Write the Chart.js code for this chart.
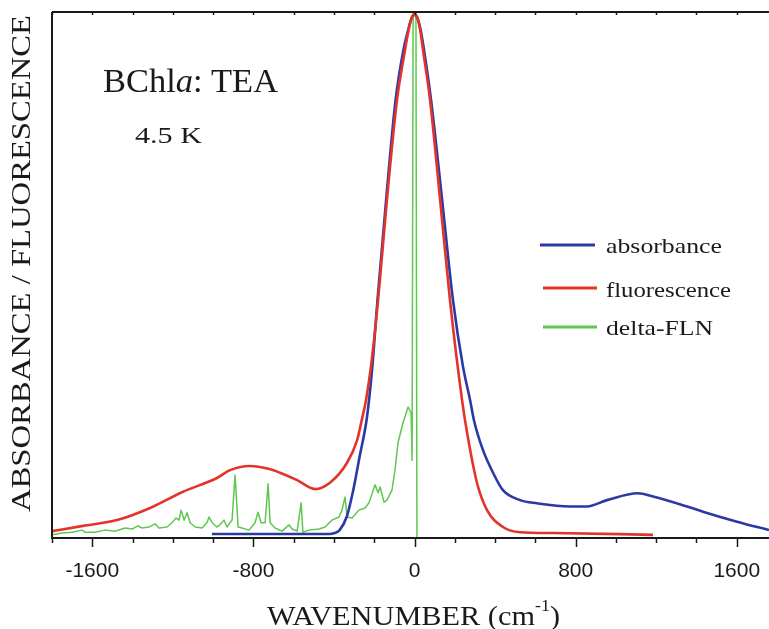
<!DOCTYPE html>
<html>
<head>
<meta charset="utf-8">
<script src="https://cdn.jsdelivr.net/npm/chart.js@4.4.0/dist/chart.umd.min.js"></script>
<style>
    body { margin: 0; background: #fff; }
</style>
</head>
<body>
<canvas id="spectra" width="769" height="629"></canvas>
<script>
// wavenumber (cm-1) / relative intensity
const absX = [-1006, -700, -421, -397, -372, -337, -307, -273, -236, -211, -184, -141, -94, -55, -32, -15, 0, 15, 30, 47, 82, 137, 191, 241, 276, 295, 340, 390, 439, 524, 608, 772, 857, 956, 1109, 1184, 1353, 1432, 1601, 1760];
const absY = [0.0076, 0.0076, 0.0076, 0.0095, 0.015, 0.040, 0.086, 0.154, 0.230, 0.319, 0.452, 0.643, 0.833, 0.928, 0.965, 0.988, 0.995, 0.988, 0.966, 0.928, 0.833, 0.643, 0.452, 0.325, 0.262, 0.224, 0.167, 0.124, 0.091, 0.072, 0.066, 0.060, 0.060, 0.072, 0.085, 0.079, 0.060, 0.050, 0.031, 0.015];

const fluX = [-1800, -1646, -1477, -1313, -1149, -981, -916, -817, -720, -668, -583, -494, -420, -335, -285, -261, -241, -216, -181, -137, -87, -47, -30, -15, 0, 15, 28, 42, 77, 127, 176, 236, 261, 310, 360, 439, 524, 688, 1184];
const fluY = [0.013, 0.023, 0.034, 0.057, 0.088, 0.114, 0.129, 0.137, 0.131, 0.124, 0.110, 0.093, 0.105, 0.143, 0.186, 0.226, 0.262, 0.327, 0.452, 0.643, 0.833, 0.928, 0.965, 0.988, 0.995, 0.988, 0.966, 0.928, 0.833, 0.643, 0.452, 0.262, 0.200, 0.105, 0.053, 0.021, 0.011, 0.0095, 0.006];

const flnX = [-1800, -1750, -1700, -1651, -1636, -1586, -1537, -1487, -1437, -1403, -1373, -1353, -1318, -1288, -1269, -1229, -1204, -1184, -1169, -1159, -1144, -1129, -1114, -1089, -1055, -1030, -1020, -1005, -981, -966, -946, -931, -916, -906, -891, -876, -857, -822, -792, -777, -762, -742, -727, -717, -693, -658, -623, -608, -583, -563, -554, -524, -474, -444, -410, -375, -360, -345, -335, -310, -276, -246, -226, -196, -181, -171, -151, -137, -112, -97, -82, -57, -32, -17, -12, -7, 7, 12, 390];
const flnY = [0.006, 0.0095, 0.011, 0.015, 0.011, 0.011, 0.015, 0.013, 0.019, 0.017, 0.023, 0.019, 0.021, 0.027, 0.019, 0.021, 0.029, 0.038, 0.034, 0.053, 0.034, 0.048, 0.029, 0.021, 0.019, 0.030, 0.040, 0.029, 0.021, 0.025, 0.034, 0.021, 0.029, 0.034, 0.120, 0.021, 0.019, 0.015, 0.029, 0.049, 0.029, 0.029, 0.103, 0.029, 0.019, 0.013, 0.025, 0.017, 0.013, 0.067, 0.011, 0.015, 0.017, 0.021, 0.034, 0.040, 0.053, 0.078, 0.040, 0.038, 0.053, 0.057, 0.067, 0.101, 0.086, 0.097, 0.068, 0.072, 0.091, 0.129, 0.181, 0.219, 0.249, 0.238, 0.148, 1.0, 1.0, 0, 0];

const xLabelled = [-1600, -800, 0, 800, 1600];
const seriesNames = ['absorbance', 'fluorescence', 'delta-FLN'];
const seriesColors = ['#2a3aa2', '#e3342b', '#5ec84e'];

const serif = '"Liberation Serif", "DejaVu Serif", serif';
const ink = '#1a1a1a';

function toPoints(xs, ys) {
    return xs.map((x, i) => ({ x: x, y: ys[i] }));
}

// draws a list of text runs, squeezed/stretched to a given width
function drawRuns(ctx, runs, x, y, width) {
    ctx.save();
    let total = 0;
    runs.forEach(r => { ctx.font = r.font; r.w = ctx.measureText(r.text).width; total += r.w; });
    ctx.translate(x, y);
    ctx.scale(width / total, 1);
    ctx.fillStyle = ink;
    ctx.textBaseline = 'alphabetic';
    ctx.textAlign = 'left';
    let cx = 0;
    runs.forEach(r => {
        ctx.font = r.font;
        ctx.fillText(r.text, cx, r.dy || 0);
        cx += r.w;
    });
    ctx.restore();
}

const framePlugin = {
    id: 'frame',
    afterDatasetsDraw(chart) {
        const ctx = chart.ctx;
        const a = chart.chartArea;
        const xs = chart.scales.x;
        ctx.save();
        ctx.strokeStyle = ink;
        ctx.lineWidth = 2;
        ctx.beginPath();
        ctx.moveTo(a.left, a.top);
        ctx.lineTo(a.left, a.bottom);
        ctx.lineTo(a.right, a.bottom);
        ctx.moveTo(a.left, a.top);
        ctx.lineTo(a.right, a.top);
        ctx.stroke();
        ctx.lineWidth = 1.5;
        ctx.beginPath();
        for (let v = -1800; v <= 1760; v += 200) {
            const px = Math.round(xs.getPixelForValue(v)) + 0.5;
            const len = v % 800 === 0 ? 9 : 5;
            ctx.moveTo(px, a.bottom);
            ctx.lineTo(px, a.bottom + len);
            ctx.moveTo(px, a.top);
            ctx.lineTo(px, a.top + 3);
        }
        ctx.stroke();
        // tick labels
        ctx.fillStyle = ink;
        ctx.font = '21px "Liberation Sans", Arial, sans-serif';
        ctx.textAlign = 'center';
        ctx.textBaseline = 'alphabetic';
        xLabelled.forEach(v => {
            ctx.fillText(String(v), xs.getPixelForValue(v), 577);
        });
        ctx.restore();
    },
    afterDraw(chart) {
        const ctx = chart.ctx;
        // annotations
        drawRuns(ctx, [
            { text: 'BChl', font: '33px ' + serif },
            { text: 'a', font: 'italic 33px ' + serif },
            { text: ': TEA', font: '33px ' + serif }
        ], 103, 92, 175);
        drawRuns(ctx, [{ text: '4.5 K', font: '24px ' + serif }], 135, 143, 67);

        // axis titles
        drawRuns(ctx, [
            { text: 'WAVENUMBER (cm', font: '27px ' + serif },
            { text: '-1', font: '16px ' + serif, dy: -14 },
            { text: ')', font: '27px ' + serif }
        ], 267, 625, 293);
        ctx.save();
        ctx.translate(30, 512);
        ctx.rotate(-Math.PI / 2);
        drawRuns(ctx, [{ text: 'ABSORBANCE / FLUORESCENCE', font: '27px ' + serif }], 0, 0, 497);
        ctx.restore();

        // legend
        const rows = [
            { y: 245, x0: 540, x1: 595, base: 253, w: 116 },
            { y: 288, x0: 543, x1: 597, base: 297, w: 125 },
            { y: 327, x0: 543, x1: 597, base: 335, w: 107 }
        ];
        rows.forEach((r, i) => {
            ctx.save();
            ctx.strokeStyle = seriesColors[i];
            ctx.lineWidth = 3;
            ctx.beginPath();
            ctx.moveTo(r.x0, r.y);
            ctx.lineTo(r.x1, r.y);
            ctx.stroke();
            ctx.restore();
            drawRuns(ctx, [{ text: seriesNames[i], font: '22px ' + serif }], 606, r.base, r.w);
        });
    }
};

new Chart(document.getElementById('spectra'), {
    type: 'line',
    data: {
        datasets: [
            {
                label: seriesNames[1],
                data: toPoints(fluX, fluY),
                borderColor: seriesColors[1],
                borderWidth: 2.6,
                cubicInterpolationMode: 'monotone'
            },
            {
                label: seriesNames[0],
                data: toPoints(absX, absY),
                borderColor: seriesColors[0],
                borderWidth: 2.6,
                cubicInterpolationMode: 'monotone'
            },
            {
                label: seriesNames[2],
                data: toPoints(flnX, flnY),
                borderColor: seriesColors[2],
                borderWidth: 1.5,
                tension: 0
            }
        ]
    },
    options: {
        responsive: false,
        animation: false,
        devicePixelRatio: 1,
        parsing: false,
        elements: { point: { radius: 0 }, line: { borderJoinStyle: 'round', fill: false } },
        layout: { padding: { left: 52, top: 12, right: 0, bottom: 0 } },
        plugins: { legend: { display: false }, tooltip: { enabled: false } },
        scales: {
            x: {
                type: 'linear',
                min: -1800,
                max: 1760,
                afterFit: function (scale) { scale.height = 91; },
                grid: { display: false, drawTicks: false },
                border: { display: false },
                ticks: { display: false, stepSize: 200 }
            },
            y: { display: false, min: 0, max: 1 }
        }
    },
    plugins: [framePlugin]
});
</script>
</body>
</html>
